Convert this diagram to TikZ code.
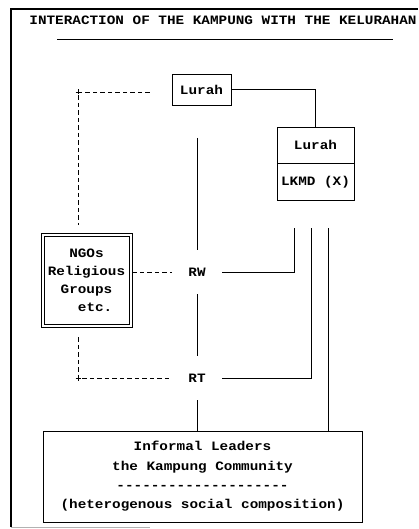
\documentclass[tikz,border=0pt]{standalone}
\usepackage{fontspec}
\setmonofont[FakeStretch=1.12]{Liberation Mono}
\usepackage{tikz}
\usetikzlibrary{positioning}

\begin{document}
\begin{tikzpicture}[x=1pt, y=-1pt, line width=0.8pt,
    every node/.style={font=\ttfamily\bfseries\fontsize{12.8}{18}\selectfont},
    box/.style={draw, rectangle, inner sep=0pt, align=center},
    level/.style={inner sep=0pt, minimum width=50pt, minimum height=44pt},
    link/.style={dashed, dash pattern=on 4.5pt off 3pt}]
    \useasboundingbox (0,0) rectangle (418,529);
    % frame of the page
    \draw[line width=1.4pt] (11,527) -- (11,9) -- (418,9);
    \draw[gray!60] (11,527) -- (150,527);
    \node (title) at (223,20) {INTERACTION OF THE KAMPUNG WITH THE KELURAHAN};
    \draw (57,39) -- (393,39);

    \node[box, minimum width=59pt, minimum height=31pt] (lurahA) at (201.5,89.5) {Lurah};
    \node[box, minimum width=77pt, minimum height=36pt] (lurahB) at (315.5,145) {Lurah};
    \node[box, minimum width=77pt, minimum height=37pt, below=0pt of lurahB] (lkmd) {LKMD (X)};

    \node[box, minimum width=91pt, minimum height=94pt] (ngo) at (86.5,280)
          {NGOs\\Religious\\Groups\\~~etc.};
    \draw ([shift={(3.5pt,-3.5pt)}]ngo.north west) rectangle ([shift={(-3.5pt,3.5pt)}]ngo.south east);

    \node[level] (rw) at (197,272) {RW};
    \node[level] (rt) at (197,378) {RT};

    \node[box, minimum width=319pt, minimum height=91pt,
          font=\ttfamily\bfseries\fontsize{12.8}{19.3}\selectfont] (inf) at (202.5,476.5)
          {Informal Leaders\\the Kampung Community\\--------------------\\(heterogenous social composition)};

    \coordinate (top) at (197,138);
    \coordinate (d1) at (78,92);
    \coordinate (d2) at (78,378);
    \coordinate (l1) at (294,228);
    \coordinate (l2) at (311,228);
    \coordinate (l3) at (328,228);

    % official line
    \draw (lurahA.east) -| (lurahB.north);
    \draw (top) -- (rw);
    \draw (rw) -- (rt);
    \draw (rt) -- (rt |- inf.north);
    \draw (rw.east) -| (l1);
    \draw (rt.east) -| (l2);
    \draw (l3) -- (l3 |- inf.north);

    % informal links
    \draw[link] ([xshift=-22pt]lurahA.west |- d1) -- (d1) -- ([yshift=8pt]d1 |- ngo.north);
    \draw[link] ([yshift=-10pt]d2 |- ngo.south) -- (d2) -- (rt.west);
    \draw[link] (ngo.east |- rw) -- (rw.west);
    \foreach \c in {d1, d2} {
        \draw[line width=0.9pt] ([xshift=-2.5pt]\c) -- ([xshift=2.5pt]\c)
            ([yshift=-2.5pt]\c) -- ([yshift=2.5pt]\c);
    }
\end{tikzpicture}
\end{document}
